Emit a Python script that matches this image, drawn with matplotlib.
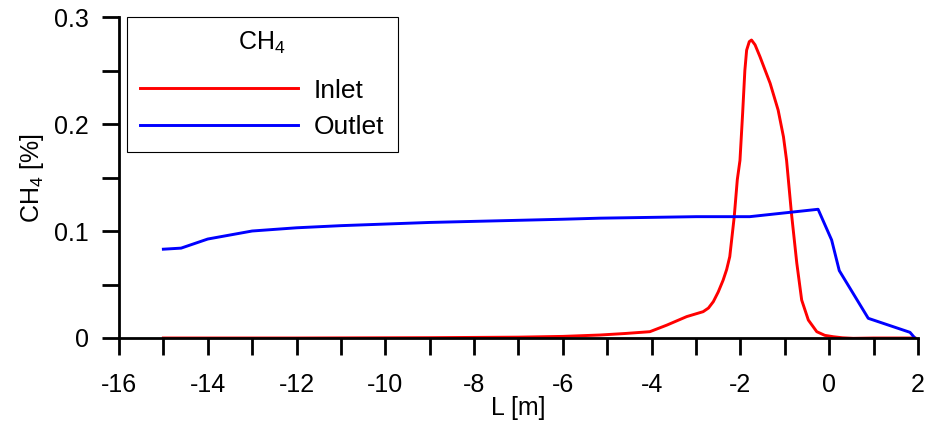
import matplotlib
matplotlib.use("Agg")
import matplotlib.pyplot as plt
from matplotlib.ticker import MultipleLocator

plt.rcParams['font.family'] = ['Liberation Sans', 'DejaVu Sans']
plt.rcParams['mathtext.default'] = 'regular'
plt.rcParams['axes.unicode_minus'] = False

# CH4 profile along the line, inlet side
L_inlet = [-15.0, -12.0, -9.0, -7.0, -6.0, -5.16, -4.6, -4.04, -3.66, -3.21, -2.84,
           -2.72, -2.61, -2.50, -2.39, -2.31, -2.24, -2.14, -2.07, -2.01, -1.95, -1.90,
           -1.86, -1.80, -1.75, -1.67, -1.56, -1.45, -1.33, -1.15, -1.03, -0.96, -0.92,
           -0.85, -0.73, -0.62, -0.47, -0.28, -0.10, 0.09, 0.30, 0.54, 1.0, 1.93]
ch4_inlet = [0.0, 0.0, 0.0003, 0.0008, 0.0015, 0.0028, 0.0042, 0.0059, 0.012, 0.020,
             0.0246, 0.028, 0.034, 0.043, 0.054, 0.064, 0.076, 0.113, 0.148, 0.166,
             0.210, 0.250, 0.269, 0.277, 0.2785, 0.274, 0.263, 0.251, 0.238, 0.213,
             0.188, 0.166, 0.148, 0.1165, 0.070, 0.0355, 0.0168, 0.0059, 0.0025, 0.0012,
             0.0002, -0.0003, 0.0, 0.0]

# CH4 profile along the line, outlet side
L_outlet = [-15.0, -14.6, -14.0, -13.0, -12.0, -11.0, -10.0, -9.0, -8.0, -6.0, -5.16,
            -2.99, -1.79, -0.25, 0.055, 0.227, 0.88, 1.82, 1.93]
ch4_outlet = [0.083, 0.084, 0.0925, 0.100, 0.103, 0.105, 0.1065, 0.108, 0.109, 0.111,
              0.112, 0.1134, 0.1134, 0.1203, 0.0916, 0.063, 0.0184, 0.0053, 0.0]

fig = plt.figure(figsize=(9.31, 4.33), dpi=100)
ax = fig.add_axes([0.1278, 0.2194, 0.8582, 0.7413])

ax.plot(L_inlet, ch4_inlet, color='#ff0000', lw=2.1, label='Inlet')
ax.plot(L_outlet, ch4_outlet, color='#0000ff', lw=2.1, label='Outlet')

ax.set_xlim(-16, 2)
ax.set_ylim(0, 0.3)
ax.spines['top'].set_visible(False)
ax.spines['right'].set_visible(False)
for s in ('left', 'bottom'):
    ax.spines[s].set_linewidth(2.0)

ax.xaxis.set_major_locator(MultipleLocator(2))
ax.xaxis.set_minor_locator(MultipleLocator(1))
ax.yaxis.set_major_locator(MultipleLocator(0.1))
ax.yaxis.set_minor_locator(MultipleLocator(0.05))
ax.tick_params(which='both', direction='out', length=12.5, width=2.0)
ax.tick_params(axis='x', which='major', pad=13, labelsize=18)
ax.tick_params(axis='y', which='major', pad=9, labelsize=18)
ax.yaxis.set_major_formatter(plt.FuncFormatter(lambda v, p: '0' if v == 0 else f'{v:.1f}'))

ax.set_xlabel('L [m]', fontsize=18, labelpad=-1)
ax.set_ylabel('CH$_4$ [%]', fontsize=18, labelpad=6)

leg = ax.legend(title='CH$_4$', loc='upper left', bbox_to_anchor=(0.0095, 1.0),
                fontsize=19, title_fontsize=18, handlelength=6.0, handletextpad=0.6,
                borderpad=0.5, labelspacing=0.48, fancybox=False, framealpha=1,
                borderaxespad=0)
leg.get_frame().set_edgecolor('black')
leg.get_frame().set_linewidth(0.8)
leg._legend_box.sep = 16

fig.savefig('out.png', dpi=100)
